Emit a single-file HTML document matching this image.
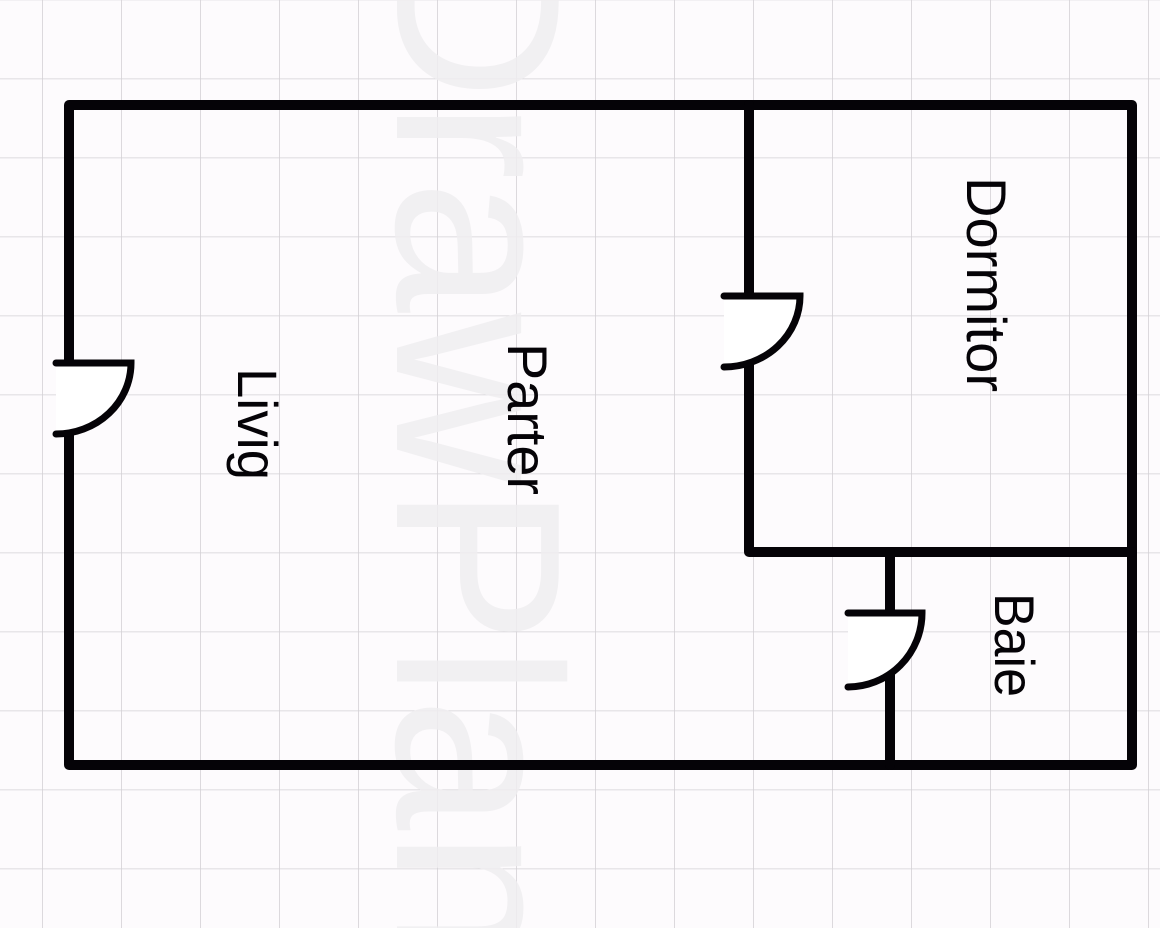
<!DOCTYPE html>
<html><head><meta charset="utf-8"><style>
html,body{margin:0;padding:0;background:#fdfbfd;}
svg{display:block;}
</style></head><body>
<svg width="1160" height="928" viewBox="0 0 1160 928" xmlns="http://www.w3.org/2000/svg">
<defs>
<pattern id="g" x="42" y="78.5" width="79" height="79" patternUnits="userSpaceOnUse">
<path d="M0 0H79M0 0V79" stroke="#d3d1d5" stroke-width="1.6" fill="none"/>
</pattern>
</defs>
<rect width="1160" height="928" fill="#fdfbfd"/>
<rect width="1160" height="928" fill="url(#g)"/>
<text transform="translate(397,-72) rotate(90)" font-family="Liberation Sans, sans-serif" font-size="235" fill="#efedf0" fill-opacity="0.85" textLength="1035" lengthAdjust="spacingAndGlyphs">DrawPlan</text>
<g stroke="#050307" stroke-width="10" stroke-linecap="round" stroke-linejoin="round" fill="none">
<path d="M69 105H1132V765H69Z"/>
<path d="M749 105V552H1132"/>
<path d="M890 552V765"/>
</g>
<g stroke="#050307" stroke-width="7" stroke-linecap="round" fill="#ffffff">
<path d="M56 363H131A75 71 0 0 1 56 434Z" stroke="none"/>
<path d="M56 363H131A75 71 0 0 1 56 434" fill="none"/>
<path d="M724 296H800A76 71 0 0 1 724 367Z" stroke="none"/>
<path d="M724 296H800A76 71 0 0 1 724 367" fill="none"/>
<path d="M848 613H922A74 74 0 0 1 848 687Z" stroke="none"/>
<path d="M848 613H922A74 74 0 0 1 848 687" fill="none"/>
</g>
<g font-family="Liberation Sans, sans-serif" font-size="56" fill="#050307">
<text transform="translate(238,368) rotate(90)" textLength="112" lengthAdjust="spacingAndGlyphs">Livig</text>
<text transform="translate(508,343) rotate(90)" textLength="152" lengthAdjust="spacingAndGlyphs">Parter</text>
<text transform="translate(967,177) rotate(90)" textLength="215" lengthAdjust="spacingAndGlyphs">Dormitor</text>
<text transform="translate(995,593) rotate(90)" textLength="104" lengthAdjust="spacingAndGlyphs">Baie</text>
</g>
</svg>
</body></html>
